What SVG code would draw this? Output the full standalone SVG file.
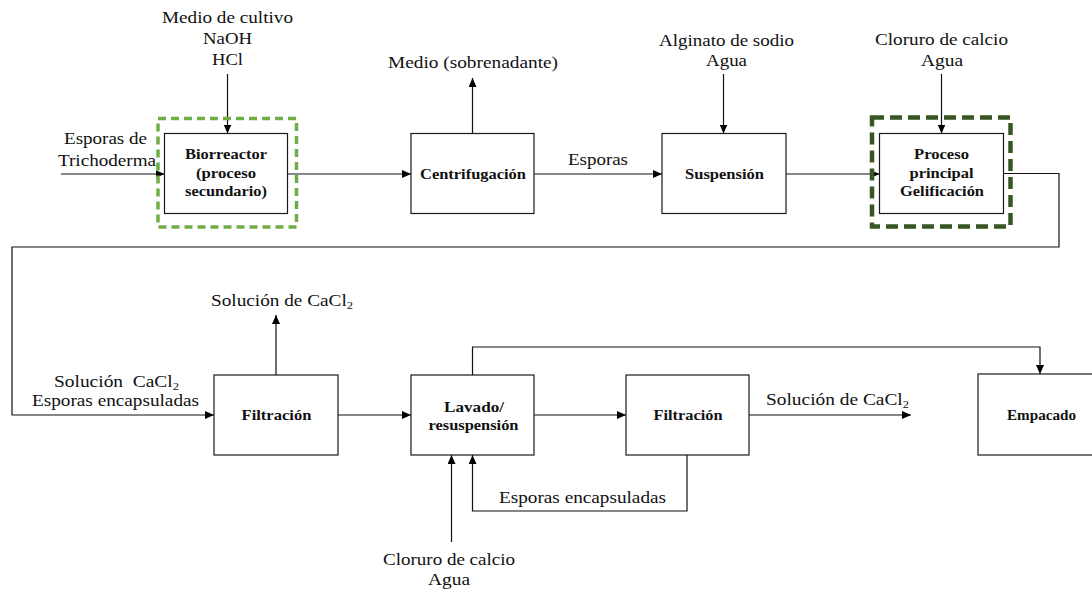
<svg xmlns="http://www.w3.org/2000/svg" width="1092" height="590" viewBox="0 0 1092 590">
<defs>
<marker id="arr" markerWidth="9" markerHeight="8" refX="9" refY="4" orient="auto" markerUnits="userSpaceOnUse">
<path d="M0,0 L9,4 L0,8 z" fill="#000"/>
</marker>
<style>
.box{fill:#fff;stroke:#1a1a1a;stroke-width:1.2}
.t{font-family:"Liberation Serif","Times New Roman",serif;font-size:17px;fill:#111;text-anchor:middle}
.b{font-family:"Liberation Serif","Times New Roman",serif;font-size:15px;font-weight:bold;fill:#111;text-anchor:middle}
.c{fill:none;stroke:#111;stroke-width:1.2}
.ca{fill:none;stroke:#111;stroke-width:1.2;marker-end:url(#arr)}
.sub{font-size:11px}
</style>
</defs>
<rect width="1092" height="590" fill="#fff"/>

<g id="connectors">
<path class="ca" d="M61,174 H164.5"/>
<path class="ca" d="M227.5,74 V133.5"/>
<path class="ca" d="M287.5,174 H411"/>
<path class="ca" d="M472.5,133.5 V78"/>
<path class="ca" d="M534,174 H662"/>
<path class="ca" d="M723.5,74 V133.5"/>
<path class="ca" d="M786,174 H879.5"/>
<path class="ca" d="M941.5,74 V133.5"/>
<path class="ca" d="M1003.5,173.5 H1059 V247 H12 V415 H214"/>
<path class="ca" d="M276,375 V315"/>
<path class="ca" d="M338,415 H411"/>
<path class="ca" d="M534,415 H626"/>
<path class="ca" d="M749,415 H911"/>
<path class="ca" d="M472.5,375 V347 H1040 V374"/>
<path class="ca" d="M451.5,542 V455"/>
<path class="ca" d="M687,455 V511 H472.5 V455"/>
</g>

<g id="biorreactor">
<rect x="158" y="118.5" width="138.5" height="108.5" fill="none" stroke="#70AD47" stroke-width="3.5" stroke-dasharray="8,5"/>
<rect class="box" x="164.5" y="133.5" width="123" height="80"/>
<text class="b" x="226" y="159" textLength="82" lengthAdjust="spacingAndGlyphs">Biorreactor</text>
<text class="b" x="226" y="177.5" textLength="60" lengthAdjust="spacingAndGlyphs">(proceso</text>
<text class="b" x="226" y="196" textLength="82" lengthAdjust="spacingAndGlyphs">secundario)</text>
</g>

<g id="centrifugacion">
<rect class="box" x="411" y="133.5" width="123" height="80"/>
<text class="b" x="473" y="178.5" textLength="106" lengthAdjust="spacingAndGlyphs">Centrifugación</text>
</g>

<g id="suspension">
<rect class="box" x="662" y="133.5" width="124" height="80"/>
<text class="b" x="724.5" y="178.5" textLength="79" lengthAdjust="spacingAndGlyphs">Suspensión</text>
</g>

<g id="gelificacion">
<rect x="872" y="117.5" width="138.5" height="109" fill="none" stroke="#375623" stroke-width="4.5" stroke-dasharray="12,6"/>
<rect class="box" x="879.5" y="133.5" width="124" height="80"/>
<text class="b" x="941.5" y="159" textLength="55" lengthAdjust="spacingAndGlyphs">Proceso</text>
<text class="b" x="941.5" y="177.5" textLength="64" lengthAdjust="spacingAndGlyphs">principal</text>
<text class="b" x="942" y="196" textLength="84" lengthAdjust="spacingAndGlyphs">Gelificación</text>
</g>

<g id="filtracion1">
<rect class="box" x="214" y="375" width="124" height="80"/>
<text class="b" x="276.5" y="419.5" textLength="70" lengthAdjust="spacingAndGlyphs">Filtración</text>
</g>

<g id="lavado">
<rect class="box" x="411" y="375" width="123" height="80"/>
<text class="b" x="474" y="411.5" textLength="60" lengthAdjust="spacingAndGlyphs">Lavado/</text>
<text class="b" x="473.5" y="429.5" textLength="90" lengthAdjust="spacingAndGlyphs">resuspensión</text>
</g>

<g id="filtracion2">
<rect class="box" x="626" y="375" width="123" height="80"/>
<text class="b" x="688" y="420" textLength="69" lengthAdjust="spacingAndGlyphs">Filtración</text>
</g>

<g id="empacado">
<rect class="box" x="978" y="374" width="124" height="81"/>
<text class="b" x="1041.5" y="420" textLength="69" lengthAdjust="spacingAndGlyphs">Empacado</text>
</g>

<g id="labels">
<text class="t" x="227.5" y="23" textLength="131" lengthAdjust="spacingAndGlyphs">Medio de cultivo</text>
<text class="t" x="227.5" y="44" textLength="49" lengthAdjust="spacingAndGlyphs">NaOH</text>
<text class="t" x="227.5" y="65" textLength="31" lengthAdjust="spacingAndGlyphs">HCl</text>
<text class="t" x="105.5" y="144" textLength="83" lengthAdjust="spacingAndGlyphs">Esporas de</text>
<text class="t" x="107" y="166" textLength="98" lengthAdjust="spacingAndGlyphs">Trichoderma</text>
<text class="t" x="473" y="68" textLength="170" lengthAdjust="spacingAndGlyphs">Medio (sobrenadante)</text>
<text class="t" x="598" y="165" textLength="60" lengthAdjust="spacingAndGlyphs">Esporas</text>
<text class="t" x="726.5" y="46" textLength="135" lengthAdjust="spacingAndGlyphs">Alginato de sodio</text>
<text class="t" x="726.5" y="66" textLength="41" lengthAdjust="spacingAndGlyphs">Agua</text>
<text class="t" x="941.5" y="45" textLength="133" lengthAdjust="spacingAndGlyphs">Cloruro de calcio</text>
<text class="t" x="942" y="66" textLength="42" lengthAdjust="spacingAndGlyphs">Agua</text>
<text class="t" x="282" y="306" textLength="142" lengthAdjust="spacingAndGlyphs">Solución de CaCl<tspan class="sub" dy="3">2</tspan></text>
<text class="t" x="116.5" y="386.5" textLength="125" lengthAdjust="spacingAndGlyphs" xml:space="preserve">Solución  CaCl<tspan class="sub" dy="3">2</tspan></text>
<text class="t" x="115.5" y="406" textLength="167" lengthAdjust="spacingAndGlyphs">Esporas encapsuladas</text>
<text class="t" x="837.5" y="405" textLength="143" lengthAdjust="spacingAndGlyphs">Solución de CaCl<tspan class="sub" dy="3">2</tspan></text>
<text class="t" x="582.5" y="503" textLength="167" lengthAdjust="spacingAndGlyphs">Esporas encapsuladas</text>
<text class="t" x="449" y="565" textLength="132" lengthAdjust="spacingAndGlyphs">Cloruro de calcio</text>
<text class="t" x="449" y="585" textLength="42" lengthAdjust="spacingAndGlyphs">Agua</text>
</g>
</svg>
